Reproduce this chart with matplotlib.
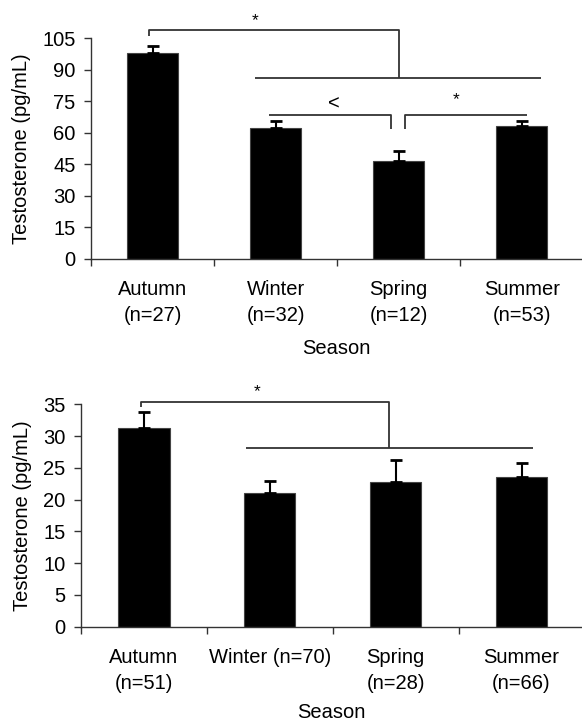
import matplotlib.pyplot as plt
import numpy as np

plt.rcParams['font.family'] = ['Liberation Sans', 'DejaVu Sans']

# top panel
labels_top = ["Autumn\n(n=27)", "Winter\n(n=32)", "Spring\n(n=12)", "Summer\n(n=53)"]
means_top = [98.0, 62.4, 46.5, 63.5]
err_top = [3.6, 3.3, 5.1, 2.4]

# bottom panel
labels_bottom = ["Autumn\n(n=51)", "Winter (n=70)", "Spring\n(n=28)", "Summer\n(n=66)"]
means_bottom = [31.2, 21.1, 22.8, 23.5]
err_bottom = [2.6, 1.9, 3.4, 2.3]

FS = 14.5
LINE = '#333333'


def draw_panel(ax, labels, means, errs, ymax, ystep, xmax, xpad):
    x = np.arange(len(means)) + 0.5
    ax.bar(x, means, width=0.41, color='black', edgecolor='#444444', linewidth=0.8, zorder=2)
    ax.errorbar(x, means, yerr=[np.zeros(len(errs)), errs], fmt='none', ecolor='black',
                elinewidth=1.5, capsize=4, capthick=2, zorder=3)
    ax.set_xlim(0, xmax)
    ax.set_ylim(0, ymax)
    ax.set_yticks(np.arange(0, ymax + 0.1, ystep))
    ax.set_xticks(np.arange(0, 4))
    ax.set_xticklabels([])
    ax.set_xticks(x, minor=True)
    ax.set_xticklabels(labels, minor=True, fontsize=FS, linespacing=1.5)
    ax.tick_params(axis='x', which='minor', length=0, pad=15)
    ax.tick_params(axis='x', which='major', direction='out', length=5, width=1, color=LINE)
    ax.tick_params(axis='y', direction='out', length=5, width=1, color=LINE, labelsize=FS, pad=6)
    for s in ['top', 'right']:
        ax.spines[s].set_visible(False)
    for s in ['left', 'bottom']:
        ax.spines[s].set_color(LINE)
        ax.spines[s].set_linewidth(1)
    ax.set_ylabel('Testosterone (pg/mL)', fontsize=FS, labelpad=8)
    ax.set_xlabel('Season', fontsize=FS, labelpad=xpad)


def line(ax, xs, ys):
    ax.plot(xs, ys, color=LINE, lw=1.3, clip_on=False, solid_capstyle='butt', zorder=4)


fig = plt.figure(figsize=(5.82, 7.23), dpi=100)

ax1 = fig.add_axes([0.1564, 0.6418, 0.8436, 0.3050])
draw_panel(ax1, labels_top, means_top, err_top, 105, 15, 3.99, 10)
line(ax1, [0.47, 0.47, 2.50, 2.50], [106, 108.9, 108.9, 86.2])
line(ax1, [1.33, 3.66], [86.2, 86.2])
line(ax1, [1.45, 2.44, 2.44], [68.7, 68.7, 61.9])
line(ax1, [2.555, 2.555, 3.54], [61.9, 68.7, 68.7])
ax1.text(1.33, 113.5, '*', fontsize=FS - 2, ha='center', va='center')
ax1.text(1.97, 74, '<', fontsize=FS, ha='center', va='center')
ax1.text(2.97, 76, '*', fontsize=FS - 2, ha='center', va='center')

ax2 = fig.add_axes([0.1387, 0.1332, 0.8613, 0.3076])
draw_panel(ax2, labels_bottom, means_bottom, err_bottom, 35, 5, 3.98, 7)
line(ax2, [0.476, 0.476, 2.45, 2.45], [34.6, 35.4, 35.4, 28.05])
line(ax2, [1.31, 3.59], [28.05, 28.05])
ax2.text(1.40, 37.0, '*', fontsize=FS - 2, ha='center', va='center')

fig.savefig('out.png', dpi=100)
